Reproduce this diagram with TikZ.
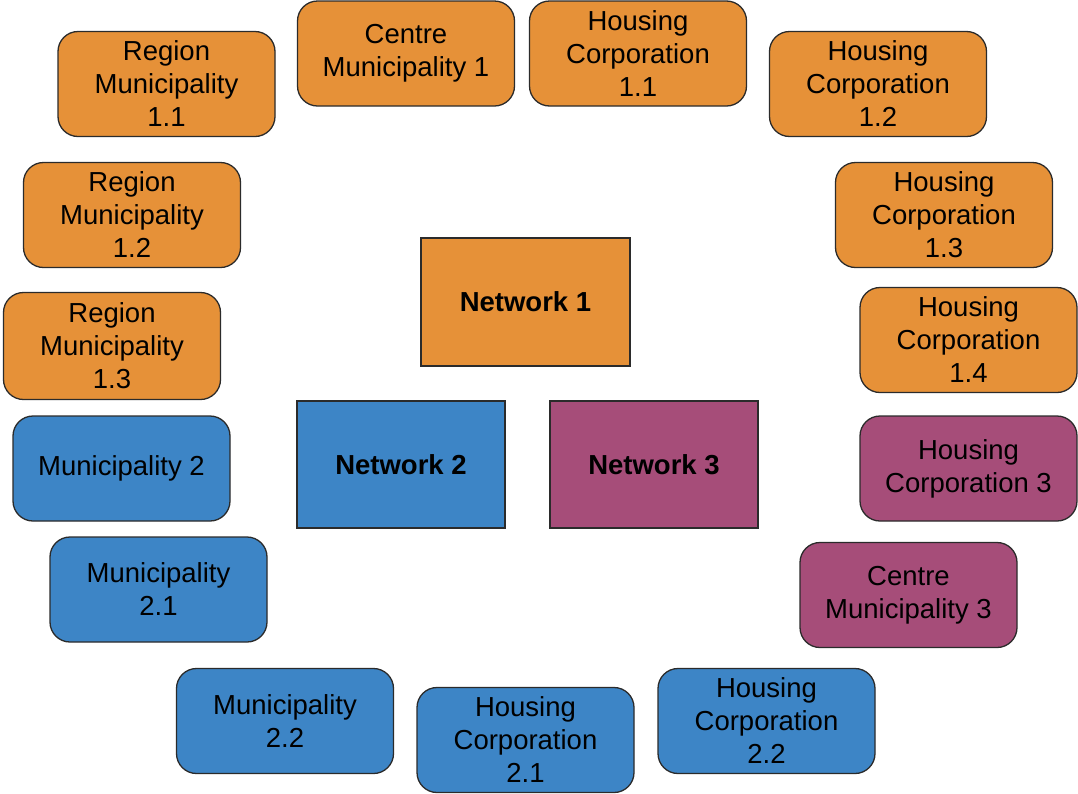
\documentclass[tikz,border=0pt]{standalone}
\usepackage{fontspec}
\setmainfont{Liberation Sans}
\definecolor{netorange}{HTML}{E69138}
\definecolor{netblue}{HTML}{3D85C6}
\definecolor{netpurple}{HTML}{A64D79}
\definecolor{edgegray}{HTML}{2B2B2B}
\begin{document}
\begin{tikzpicture}[x=1pt,y=-1pt,
  member/.style={draw=edgegray,line width=1.3pt,rounded corners=20pt,
    minimum width=217pt,minimum height=105pt,inner sep=0pt,align=center,
    font=\fontsize{27.5}{33}\selectfont},
  network/.style={draw=edgegray,line width=1.3pt,inner sep=0pt,align=center,
    font=\fontsize{27.5}{33}\selectfont\bfseries},
  orangebox/.style={fill=netorange},
  bluebox/.style={fill=netblue},
  purplebox/.style={fill=netpurple}]
\useasboundingbox (0,0) rectangle (1078,793);
\begin{scope}
\clip (0,0) rectangle (1078,793);
% central networks
\node[network,orangebox,minimum width=209pt,minimum height=128pt] (n1) at (525.5,302) {Network 1};
\node[network,bluebox,minimum width=208pt,minimum height=127pt] (n2) at (401,464.5) {Network 2};
\node[network,purplebox,minimum width=208pt,minimum height=127pt] (n3) at (654,464.5) {Network 3};
% network 1 members
\node[member,orangebox] (cm1) at (406,53.5) {Centre\\Municipality 1};
\node[member,orangebox] (hc11) at (638,53.5) {Housing\\Corporation\\1.1};
\node[member,orangebox] (rm11) at (166.5,84) {Region\\Municipality\\1.1};
\node[member,orangebox] (hc12) at (878,84) {Housing\\Corporation\\1.2};
\node[member,orangebox] (rm12) at (132,215) {Region\\Municipality\\1.2};
\node[member,orangebox] (hc13) at (944,215) {Housing\\Corporation\\1.3};
\node[member,orangebox,minimum height=107pt] (rm13) at (112,346) {Region\\Municipality\\1.3};
\node[member,orangebox] (hc14) at (968.5,340) {Housing\\Corporation\\1.4};
% network 2 members
\node[member,bluebox] (m2) at (121.5,468.5) {Municipality 2};
\node[member,bluebox] (m21) at (158.5,589.5) {Municipality\\2.1};
\node[member,bluebox] (m22) at (285,721) {Municipality\\2.2};
\node[member,bluebox] (hc21) at (525.5,740) {Housing\\Corporation\\2.1};
\node[member,bluebox] (hc22) at (766.5,721) {Housing\\Corporation\\2.2};
% network 3 members
\node[member,purplebox] (hc3) at (968.5,468.5) {Housing\\Corporation 3};
\node[member,purplebox] (cm3) at (908.5,595) {Centre\\Municipality 3};
\end{scope}
\end{tikzpicture}
\end{document}
